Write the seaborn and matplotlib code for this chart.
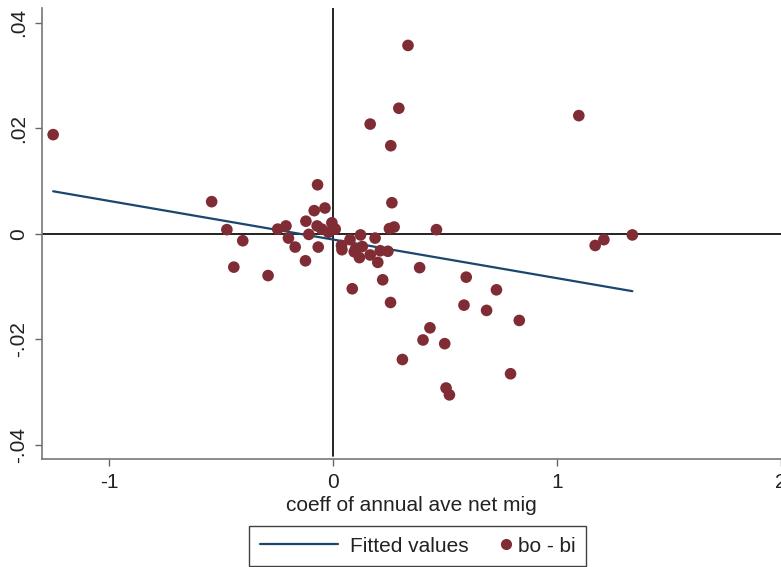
import numpy as np
import pandas as pd
import matplotlib
matplotlib.use("Agg")
import matplotlib.pyplot as plt
from matplotlib.lines import Line2D
from matplotlib.legend_handler import HandlerLine2D
import seaborn as sns

# coeff of annual ave net mig (x) and bo - bi (y)
coeff = [-1.251, -0.543, -0.475, -0.404, -0.444, -0.291, -0.248, -0.211, -0.200, -0.170,
         -0.124, -0.122, -0.109, -0.085, -0.070, -0.067, -0.072, -0.037, -0.051, -0.021,
         -0.006, 0.009, 0.037, 0.039, 0.075, 0.085, 0.094, 0.100, 0.117, 0.122,
         0.130, 0.165, 0.187, 0.199, 0.210, 0.244, 0.221, 0.256, 0.262, 0.251,
         0.272, 0.386, 0.432, 0.401, 0.309, 0.461, 0.334, 0.293, 0.165, 0.257,
         1.097, 1.170, 1.209, 1.336, 0.594, 0.729, 0.584, 0.685, 0.831, 0.498,
         0.792, 0.504, 0.519]
bo_bi = [0.0188, 0.0061, 0.0008, -0.0013, -0.0063, -0.0079, 0.0009, 0.0015, -0.0008, -0.0025,
         -0.0051, 0.0024, -0.0001, 0.0044, 0.0093, -0.0025, 0.0015, 0.0049, 0.0009, 0.0003,
         0.0021, 0.0009, -0.0022, -0.0030, -0.0011, -0.0104, -0.0034, -0.0028, -0.0045, -0.0002,
         -0.0024, -0.0040, -0.0008, -0.0054, -0.0032, -0.0033, -0.0087, -0.0130, 0.0059, 0.0010,
         0.0013, -0.0064, -0.0178, -0.0201, -0.0238, 0.0008, 0.0357, 0.0238, 0.0208, 0.0167,
         0.0224, -0.0022, -0.0011, -0.0002, -0.0082, -0.0106, -0.0135, -0.0145, -0.0164, -0.0208,
         -0.0265, -0.0292, -0.0305]

x_ticks = [-1, 0, 1, 2]
y_ticks = [-0.04, -0.02, 0, 0.02, 0.04]
y_ticklabels = ["-.04", "-.02", "0", ".02", ".04"]

df = pd.DataFrame({"coeff": coeff, "bo_bi": bo_bi})

# OLS fit, like Stata's lfit
slope, intercept = np.polyfit(df["coeff"], df["bo_bi"], 1)
fit = pd.DataFrame({"coeff": [df["coeff"].min(), df["coeff"].max()]})
fit["fitted"] = intercept + slope * fit["coeff"]


class RightMarker(HandlerLine2D):
    # put the legend marker at the right end of its handle box (Stata style)
    def get_xdata(self, legend, xdescent, ydescent, width, height, fontsize):
        x = -xdescent + width
        return [x, x], [x]


sns.set_style("white")
plt.rcParams["font.family"] = ["Liberation Sans Narrow", "Liberation Sans", "DejaVu Sans"]

navy = "#1a476f"
maroon = "#7f2c35"
txt = "#222222"

fig = plt.figure(figsize=(7.81, 5.67), dpi=100)
ax = fig.add_axes([0.054, 0.19, 0.946, 0.796])

ax.axhline(0, color="#111111", lw=1.3, zorder=1)
ax.axvline(0, ymin=0.008, ymax=1, color="#111111", lw=1.3, zorder=1)

sns.lineplot(data=fit, x="coeff", y="fitted", color=navy, lw=1.6, ax=ax, zorder=2)
sns.scatterplot(data=df, x="coeff", y="bo_bi", color=maroon, s=70, edgecolor="none",
                ax=ax, zorder=3)

ax.set_xlim(-1.3, 2.0)
ax.set_ylim(-0.0427, 0.0428)
ax.set_xticks(x_ticks)
ax.set_xticklabels([str(t) for t in x_ticks])
ax.set_yticks(y_ticks)
ax.set_yticklabels(y_ticklabels, rotation=90, va="center")
ax.tick_params(axis="both", bottom=True, left=True, direction="out", length=5, width=1,
               color="#666666", labelsize=15, labelcolor=txt, pad=5)
ax.set_xlabel("coeff of annual ave net mig", fontsize=15, color=txt, labelpad=3)
ax.set_ylabel("")

for side in ["top", "right"]:
    ax.spines[side].set_visible(False)
for side in ["left", "bottom"]:
    ax.spines[side].set_color("#777777")
    ax.spines[side].set_linewidth(1.2)

h_line = Line2D([], [], color=navy, lw=1.6)
h_dot = Line2D([], [], color=maroon, marker="o", markersize=7, lw=0)
leg = fig.legend([h_line, h_dot], ["Fitted values", "bo - bi"], loc="center",
                 bbox_to_anchor=(0.5346, 0.037), ncol=2, frameon=True, fancybox=False,
                 fontsize=15, handlelength=3.75, handletextpad=0.58, columnspacing=-1.95,
                 borderpad=0.5, handler_map={h_dot: RightMarker(numpoints=1)})
leg.get_frame().set_edgecolor("#111111")
leg.get_frame().set_linewidth(1.0)
for t in leg.get_texts():
    t.set_color(txt)

fig.savefig("out.png", dpi=100)
